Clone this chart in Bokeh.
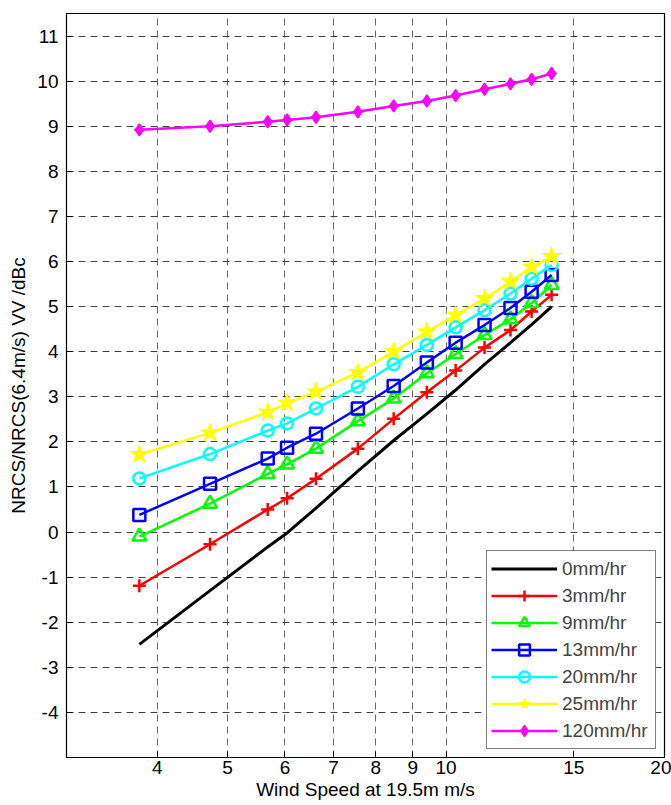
from bokeh.plotting import figure
from bokeh.models import Range1d, FixedTicker, Legend, LegendItem
from bokeh.embed import file_html
from bokeh.resources import INLINE

# ---- data ----
wind = [3.78, 4.73, 5.68, 6.04, 6.62, 7.56, 8.47, 9.41, 10.31, 11.30, 12.27, 13.12, 13.98]
r0 = [-2.49, -1.30, -0.33, -0.02, 0.53, 1.35, 2.03, 2.62, 3.15, 3.72, 4.20, 4.60, 5.00]
r3 = [-1.19, -0.27, 0.50, 0.75, 1.18, 1.85, 2.51, 3.10, 3.58, 4.09, 4.48, 4.89, 5.26]
r9 = [-0.10, 0.63, 1.29, 1.50, 1.85, 2.46, 2.96, 3.52, 3.95, 4.37, 4.72, 5.08, 5.48]
r13 = [0.38, 1.07, 1.63, 1.87, 2.18, 2.74, 3.24, 3.76, 4.20, 4.59, 4.97, 5.33, 5.70]
r20 = [1.19, 1.73, 2.25, 2.41, 2.74, 3.22, 3.72, 4.15, 4.54, 4.92, 5.29, 5.62, 5.92]
r25 = [1.72, 2.20, 2.66, 2.86, 3.11, 3.54, 4.00, 4.44, 4.81, 5.18, 5.55, 5.88, 6.11]
r120 = [8.92, 9.00, 9.10, 9.14, 9.20, 9.32, 9.45, 9.56, 9.68, 9.82, 9.94, 10.04, 10.17]

labels = ["0mm/hr", "3mm/hr", "9mm/hr", "13mm/hr", "20mm/hr", "25mm/hr", "120mm/hr"]
x_ticks = [4, 5, 6, 7, 8, 9, 10, 15, 20]
y_ticks = list(range(-4, 12))

FONT = "Liberation Sans"
FS = "19px"

p = figure(width=671, height=805, x_axis_type="log",
           x_range=Range1d(3, 20), y_range=Range1d(-5, 11.5),
           output_backend="svg", toolbar_location=None,
           min_border_left=66, min_border_top=13, min_border_right=7, min_border_bottom=48,
           background_fill_color="white", border_fill_color="white")

p.outline_line_color = "black"
p.outline_line_width = 1.2

for ax in (p.xaxis[0], p.yaxis[0]):
    ax.major_label_text_font = FONT
    ax.major_label_text_font_size = FS
    ax.major_label_text_color = "black"
    ax.axis_label_text_font = FONT
    ax.axis_label_text_font_size = FS
    ax.axis_label_text_font_style = "normal"
    ax.axis_label_text_color = "black"
    ax.major_tick_in = 6
    ax.major_tick_out = 0
    ax.minor_tick_line_color = None
    ax.axis_line_color = "black"
    ax.major_tick_line_color = "black"

p.xaxis.ticker = FixedTicker(ticks=x_ticks)
p.xaxis.major_label_overrides = {t: str(t) for t in x_ticks}
p.yaxis.ticker = FixedTicker(ticks=y_ticks)
p.yaxis.major_label_overrides = {t: str(t) for t in y_ticks}
p.xaxis.axis_label = "Wind Speed at 19.5m m/s"
p.yaxis.axis_label = "NRCS/NRCS(6.4m/s) VV /dBc"
p.xaxis.major_label_standoff = 3
p.xaxis.axis_label_standoff = 2
p.yaxis.major_label_standoff = 8
p.yaxis.axis_label_standoff = 5

p.xgrid.ticker = FixedTicker(ticks=x_ticks)
p.ygrid.ticker = FixedTicker(ticks=y_ticks)
p.xgrid.grid_line_color = "#666666"
p.ygrid.grid_line_color = "#444444"
p.xgrid.grid_line_dash = "7 5"
p.ygrid.grid_line_dash = "7 5"
p.xgrid.grid_line_width = 1
p.ygrid.grid_line_width = 1

LW = 2.5
items = []

l0 = p.line(wind, r0, line_color="black", line_width=3)
items.append(LegendItem(label=labels[0], renderers=[l0]))

l3 = p.line(wind, r3, line_color="red", line_width=LW)
m3 = p.scatter(wind, r3, marker="cross", size=13, line_color="red", line_width=2.5)
items.append(LegendItem(label=labels[1], renderers=[l3, m3]))

l9 = p.line(wind, r9, line_color="#00ff00", line_width=LW)
m9 = p.scatter(wind, r9, marker="triangle", size=14, line_color="#00ff00", fill_color=None, line_width=2.5)
items.append(LegendItem(label=labels[2], renderers=[l9, m9]))

l13 = p.line(wind, r13, line_color="blue", line_width=LW)
m13 = p.scatter(wind, r13, marker="square", size=12, line_color="blue", fill_color=None, line_width=2.5)
items.append(LegendItem(label=labels[3], renderers=[l13, m13]))

l20 = p.line(wind, r20, line_color="cyan", line_width=LW)
m20 = p.scatter(wind, r20, marker="circle", size=12, line_color="cyan", fill_color=None, line_width=2.5)
items.append(LegendItem(label=labels[4], renderers=[l20, m20]))

l25 = p.line(wind, r25, line_color="yellow", line_width=LW)
m25 = p.scatter(wind, r25, marker="star", size=19, line_color="yellow", fill_color="yellow", line_width=1)
items.append(LegendItem(label=labels[5], renderers=[l25, m25]))

l120 = p.line(wind, r120, line_color="magenta", line_width=LW)
m120 = p.scatter(wind, r120, marker="diamond", size=12, line_color="magenta", fill_color="magenta", line_width=1.5)
m120b = p.scatter(wind, r120, marker="cross", size=10, line_color="magenta", line_width=2)
items.append(LegendItem(label=labels[6], renderers=[l120, m120, m120b]))

legend = Legend(items=items, location="bottom_right", margin=8, padding=4,
                glyph_width=66, glyph_height=27, spacing=0, label_standoff=5,
                label_width=89, label_height=20,
                label_text_font=FONT, label_text_font_size=FS,
                border_line_color="black", border_line_width=1,
                background_fill_color="white", background_fill_alpha=1)
p.add_layout(legend, "center")

open("out.html", "w").write(file_html(p, INLINE))
